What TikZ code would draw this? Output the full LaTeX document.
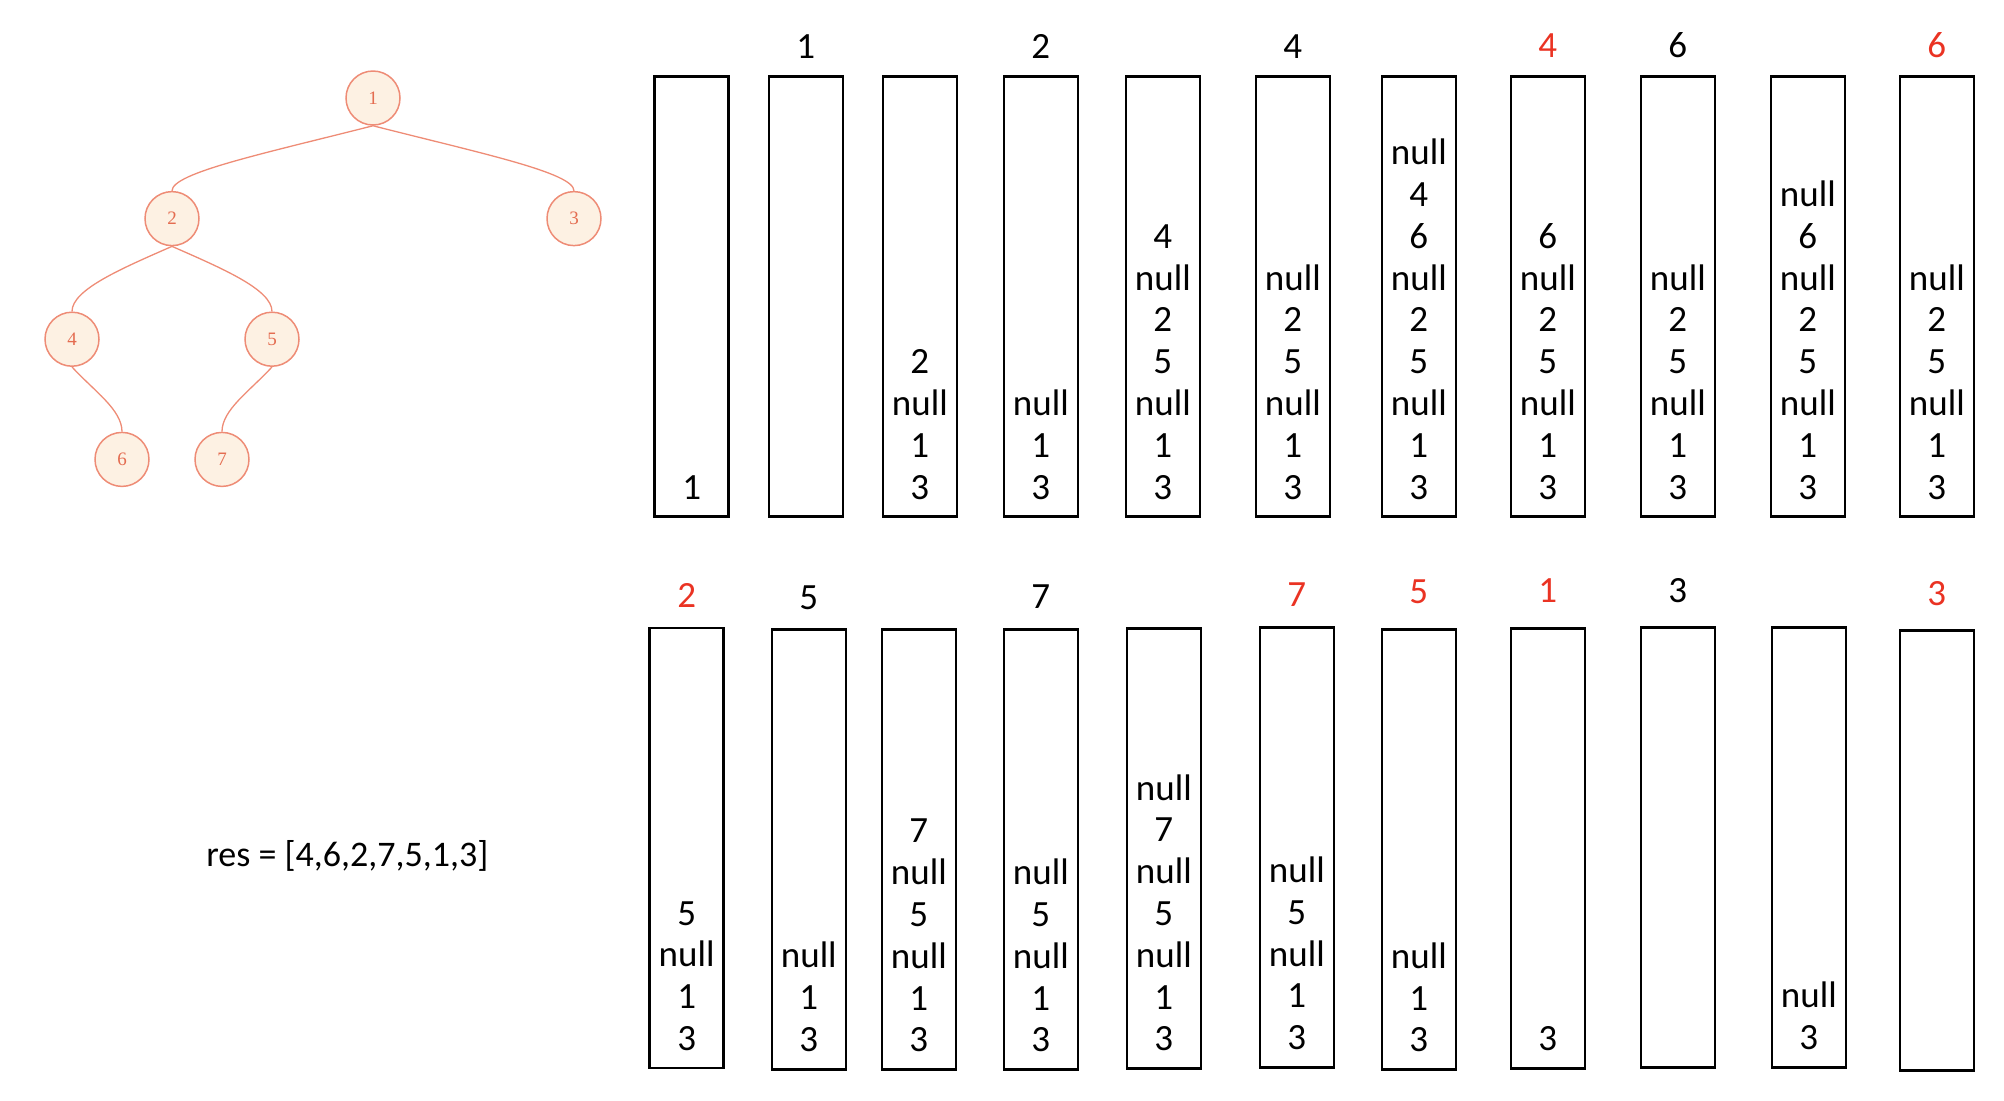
\documentclass[tikz,border=0pt]{standalone}
\usepackage{fontspec}
\setmainfont{Carlito}
\newfontfamily\treefont{Liberation Serif}
\usetikzlibrary{shapes.geometric,calc}
\definecolor{tline}{RGB}{238,140,118}
\definecolor{tfill}{RGB}{253,241,227}
\definecolor{ttext}{RGB}{228,108,80}
\definecolor{lred}{RGB}{234,51,35}
\newcommand\stk[4]{%
  \node[stackbox] (#1) at (#2,#3) {};
  \foreach \t [count=\i] in {#4} {
    \node[cell] (#1-\i) at ($(#1.south)+(0,{-19-(\i-1)*41.8})$) {\t};
  }%
}
\begin{document}
\begin{tikzpicture}[x=0.5pt,y=-0.5pt,
  tnode/.style={circle, draw=tline, fill=tfill, line width=0.75pt, minimum size=27pt, inner sep=0pt, text=ttext, font=\treefont\fontsize{9.5}{10}\selectfont},
  tedge/.style={draw=tline, line width=0.65pt},
  stackbox/.style={draw=black, line width=1.35pt, minimum width=37pt, minimum height=220pt, inner sep=0pt, anchor=north west},
  cell/.style={anchor=base, inner sep=0pt, font=\fontsize{18.5}{20}\selectfont},
  lab/.style={anchor=base, inner sep=0pt, font=\fontsize{18.5}{20}\selectfont},
  redlab/.style={lab, text=lred}]
\useasboundingbox (0,0) rectangle (2004,1100);
% tree
\node[tnode] (n1) at (373,98) {1};
\node[tnode] (n2) at (172,218.6) {2};
\node[tnode] (n3) at (574,218.6) {3};
\node[tnode] (n4) at (72,339.2) {4};
\node[tnode] (n5) at (272,339.2) {5};
\node[tnode] (n6) at (122,459.4) {6};
\node[tnode] (n7) at (222,459.4) {7};
\draw[tedge] (n1.south) .. controls +(-110,28) and +(0,-18) .. (n2.north);
\draw[tedge] (n1.south) .. controls +(110,28) and +(0,-18) .. (n3.north);
\draw[tedge] (n2.south) .. controls +(-50,22) and +(0,-22) .. (n4.north);
\draw[tedge] (n2.south) .. controls +(50,22) and +(0,-22) .. (n5.north);
\draw[tedge] (n4.south) .. controls +(22,24) and +(0,-22) .. (n6.north);
\draw[tedge] (n5.south) .. controls +(-22,24) and +(0,-22) .. (n7.north);
\node[anchor=base west, inner sep=0pt, font=\fontsize{18}{20}\selectfont] (res) at (206,866.7) {res = [4,6,2,7,5,1,3]};
% top row
\stk{T1}{653.3}{75.3}{1}
\node[stackbox] (T2) at (767.5,75.3) {};
\stk{T3}{881.5}{75.3}{3,1,null,2}
\stk{T4}{1002.5}{75.3}{3,1,null}
\stk{T5}{1124.5}{75.3}{3,1,null,5,2,null,4}
\stk{T6}{1254.5}{75.3}{3,1,null,5,2,null}
\stk{T7}{1380.5}{75.3}{3,1,null,5,2,null,6,4,null}
\stk{T8}{1509.5}{75.3}{3,1,null,5,2,null,6}
\stk{T9}{1639.5}{75.3}{3,1,null,5,2,null}
\stk{T10}{1769.5}{75.3}{3,1,null,5,2,null,6,null}
\stk{T11}{1898.5}{75.3}{3,1,null,5,2,null}
\node[lab] (lT2) at (T2 |- 0,58) {1};
\node[lab] (lT4) at (T4 |- 0,58) {2};
\node[lab] (lT6) at (T6 |- 0,58) {4};
\node[redlab] (lT8) at (T8 |- 0,57) {4};
\node[lab] (lT9) at (T9 |- 0,57) {6};
\node[redlab] (lT11) at (T11 |- 0,57) {6};
% bottom row
\stk{B1}{648.3}{626.7}{3,1,null,5}
\stk{B2}{770.5}{627.8}{3,1,null}
\stk{B3}{880.5}{628.1}{3,1,null,5,null,7}
\stk{B4}{1002.5}{628.1}{3,1,null,5,null}
\stk{B5}{1125.5}{627.1}{3,1,null,5,null,7,null}
\stk{B6}{1258.5}{626}{3,1,null,5,null}
\stk{B7}{1380.5}{628.1}{3,1,null}
\stk{B8}{1509.5}{627.1}{3}
\node[stackbox] (B9) at (1639.5,626) {};
\stk{B10}{1770.5}{626}{3,null}
\node[stackbox] (B11) at (1898.5,629.2) {};
\node[redlab] (lB1) at (B1 |- 0,607.5) {2};
\node[lab] (lB2) at (B2 |- 0,609.2) {5};
\node[lab] (lB4) at (B4 |- 0,608.2) {7};
\node[redlab] (lB6) at (B6 |- 0,606.4) {7};
\node[redlab] (lB7) at (B7 |- 0,603.6) {5};
\node[redlab] (lB8) at (B8 |- 0,602.9) {1};
\node[lab] (lB9) at (B9 |- 0,602.2) {3};
\node[redlab] (lB11) at (B11 |- 0,605.7) {3};
\end{tikzpicture}
\end{document}
